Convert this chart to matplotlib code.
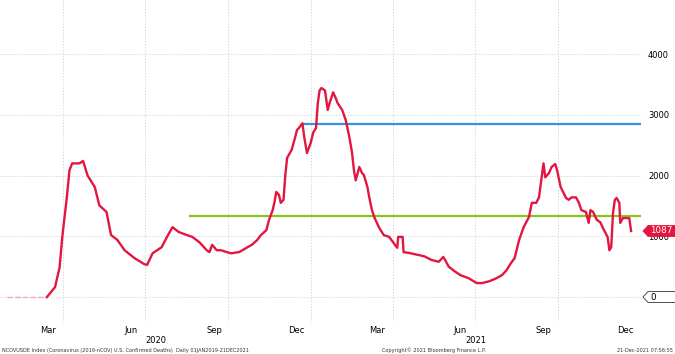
import matplotlib
matplotlib.use("Agg")
import matplotlib.pyplot as plt
import matplotlib.dates as mdates
import matplotlib.transforms as mtransforms
from matplotlib.patches import Polygon
import pandas as pd

# daily US confirmed deaths
dates = [
    "2020-01-30", "2020-03-06", "2020-03-14", "2020-03-23", "2020-03-28", "2020-03-31",
    "2020-04-05", "2020-04-08", "2020-04-11", "2020-04-19", "2020-04-23", "2020-04-28",
    "2020-05-06", "2020-05-11", "2020-05-19", "2020-05-24", "2020-05-31", "2020-06-08",
    "2020-06-19", "2020-06-30", "2020-07-03", "2020-07-09", "2020-07-19", "2020-07-25",
    "2020-07-31", "2020-08-07", "2020-08-16", "2020-08-22", "2020-08-30", "2020-09-07",
    "2020-09-10", "2020-09-13", "2020-09-18", "2020-09-23", "2020-09-29", "2020-10-04",
    "2020-10-13", "2020-10-21", "2020-10-27", "2020-11-02", "2020-11-06", "2020-11-12",
    "2020-11-15", "2020-11-19", "2020-11-21", "2020-11-23", "2020-11-26", "2020-11-28",
    "2020-12-01", "2020-12-03", "2020-12-05", "2020-12-10", "2020-12-13", "2020-12-16",
    "2020-12-18", "2020-12-22", "2020-12-24", "2020-12-27", "2020-12-31", "2021-01-03",
    "2021-01-06", "2021-01-08", "2021-01-10", "2021-01-12", "2021-01-16", "2021-01-19",
    "2021-01-21", "2021-01-25", "2021-01-28", "2021-01-30", "2021-02-04", "2021-02-08",
    "2021-02-12", "2021-02-15", "2021-02-17", "2021-02-19", "2021-02-23", "2021-02-26",
    "2021-02-28", "2021-03-04", "2021-03-06", "2021-03-09", "2021-03-12", "2021-03-17",
    "2021-03-22", "2021-03-28", "2021-04-02", "2021-04-06", "2021-04-07", "2021-04-12",
    "2021-04-13", "2021-04-21", "2021-04-30", "2021-05-06", "2021-05-14", "2021-05-22",
    "2021-05-27", "2021-05-29", "2021-06-02", "2021-06-08", "2021-06-15", "2021-06-24",
    "2021-07-03", "2021-07-09", "2021-07-17", "2021-07-25", "2021-07-31", "2021-08-05",
    "2021-08-10", "2021-08-14", "2021-08-19", "2021-08-24", "2021-08-30", "2021-09-02",
    "2021-09-07", "2021-09-10", "2021-09-13", "2021-09-15", "2021-09-17", "2021-09-21",
    "2021-09-24", "2021-09-28", "2021-09-30", "2021-10-04", "2021-10-10", "2021-10-13",
    "2021-10-16", "2021-10-21", "2021-10-24", "2021-10-27", "2021-11-01", "2021-11-04",
    "2021-11-06", "2021-11-09", "2021-11-13", "2021-11-17", "2021-11-20", "2021-11-25",
    "2021-11-27", "2021-11-29", "2021-12-01", "2021-12-03", "2021-12-05", "2021-12-08",
    "2021-12-09", "2021-12-12", "2021-12-15", "2021-12-19", "2021-12-21",
]
deaths = [
    0, 0, 0, 164, 490, 990,
    1640, 2090, 2200, 2200, 2240, 2000,
    1810, 1510, 1400, 1020, 940, 770,
    640, 540, 530, 720, 820, 990,
    1150, 1070, 1020, 990, 900, 770,
    740, 860, 770, 770, 740, 720,
    740, 810, 860, 940, 1020, 1100,
    1270, 1430, 1560, 1730, 1680, 1550,
    1600, 2000, 2290, 2420, 2580, 2750,
    2780, 2860, 2630, 2370, 2530, 2710,
    2780, 3190, 3400, 3440, 3400, 3080,
    3190, 3370, 3270, 3190, 3080, 2910,
    2630, 2370, 2090, 1920, 2140, 2040,
    2010, 1810, 1640, 1430, 1300, 1140,
    1020, 990, 890, 810, 990, 990,
    740, 720, 690, 670, 610, 580,
    660, 610, 500, 430, 360, 310,
    230, 230, 260, 310, 360, 440,
    560, 640, 940, 1150, 1320, 1550,
    1550, 1640, 1970, 2200, 1970, 2040,
    2140, 2190, 2090, 1810, 1630, 1600,
    1640, 1640, 1560, 1430, 1400, 1220,
    1430, 1400, 1270, 1230, 1130, 990,
    770, 820, 1380, 1600, 1630, 1550,
    1220, 1300, 1300, 1300, 1087,
]
level_high = 2850
level_high_start = "2020-12-22"
level_low = 1335
level_low_start = "2020-08-19"

x_start = pd.Timestamp("2020-01-22")
x_end = pd.Timestamp("2022-01-01")
yticks = [0, 1000, 2000, 3000, 4000]
ylabels = ["", "1000", "2000", "3000", "4000"]  # 0 is shown by the tag
years = ["2020", "2021"]

red = "#e3163f"
grid_c = "#cfcfcf"
s = pd.Series(deaths, index=pd.to_datetime(dates))

fig = plt.figure(figsize=(6.75, 3.54), dpi=100)
ax = fig.add_axes([0, 32 / 354, 641 / 675, 322 / 354])

zero = s[s.index <= "2020-03-14"]
ax.plot(zero.index, zero.values, color="#f2a5b5", lw=1.0, ls=(0, (4, 1.5)), zorder=3)
ax.plot(s.index[2:], s.values[2:], color=red, lw=1.7, zorder=4)
ax.plot([pd.Timestamp(level_high_start), x_end], [level_high] * 2, color="#3b8fdc", lw=1.6, zorder=3)
ax.plot([pd.Timestamp(level_low_start), x_end], [level_low] * 2, color="#85c51c", lw=1.6, zorder=3)

ax.set_xlim(x_start, x_end)
ax.set_ylim(-411, 4889)
for sp in ax.spines.values():
    sp.set_visible(False)

ax.xaxis.set_major_locator(mdates.MonthLocator(bymonth=[1, 4, 7, 10]))
ax.xaxis.set_major_formatter(plt.NullFormatter())
ax.xaxis.set_minor_locator(mdates.MonthLocator(bymonth=[3, 6, 9, 12], bymonthday=15))
ax.xaxis.set_minor_formatter(mdates.DateFormatter("%b"))
ax.tick_params(axis="x", which="both", length=0, labelsize=6, pad=3)
ax.grid(axis="x", which="major", color=grid_c, ls=(0, (1.5, 2)), lw=0.6)

ax.yaxis.tick_right()
ax.set_yticks(yticks)
ax.set_yticklabels(ylabels)
ax.tick_params(axis="y", length=0, labelsize=6, pad=5)
ax.grid(axis="y", color=grid_c, ls=(0, (1.5, 2)), lw=0.6)

# year labels centred on the visible part of each year
tr = mtransforms.blended_transform_factory(ax.transData, ax.transAxes)
for yr in years:
    a = max(pd.Timestamp(yr + "-01-01"), x_start)
    b = min(pd.Timestamp(str(int(yr) + 1) + "-01-01"), x_end)
    ax.text(a + (b - a) / 2, -0.059, yr, transform=tr, ha="center", va="center", fontsize=6)

# value tags on the right axis
tt = mtransforms.blended_transform_factory(ax.transAxes, ax.transData)
def tag(v, txt, fc, ec, tc):
    h = 90
    poly = Polygon([[1.003, v], [1.011, v + h], [1.06, v + h], [1.06, v - h], [1.011, v - h]],
                   closed=True, transform=tt, fc=fc, ec=ec, lw=0.6, clip_on=False, zorder=6)
    ax.add_patch(poly)
    ax.text(1.014, v, txt, transform=tt, color=tc, fontsize=6.3, va="center", ha="left",
            clip_on=False, zorder=7)

tag(deaths[-1], str(deaths[-1]), red, red, "white")
tag(0, "0", "white", "#333333", "black")

fig.text(0.003, 0.004, "NCOVUSDE Index (Coronavirus (2019-nCOV) U.S. Confirmed Deaths)  Daily 01JAN2019-21DEC2021",
         fontsize=3.6, va="bottom", ha="left", color="#333333")
fig.text(382 / 675, 0.004, "Copyright\u00a9 2021 Bloomberg Finance L.P.",
         fontsize=3.6, va="bottom", ha="left", color="#333333")
fig.text(0.997, 0.004, "21-Dec-2021 07:56:55", fontsize=3.6, va="bottom", ha="right", color="#333333")

fig.savefig("out.png", dpi=100)
